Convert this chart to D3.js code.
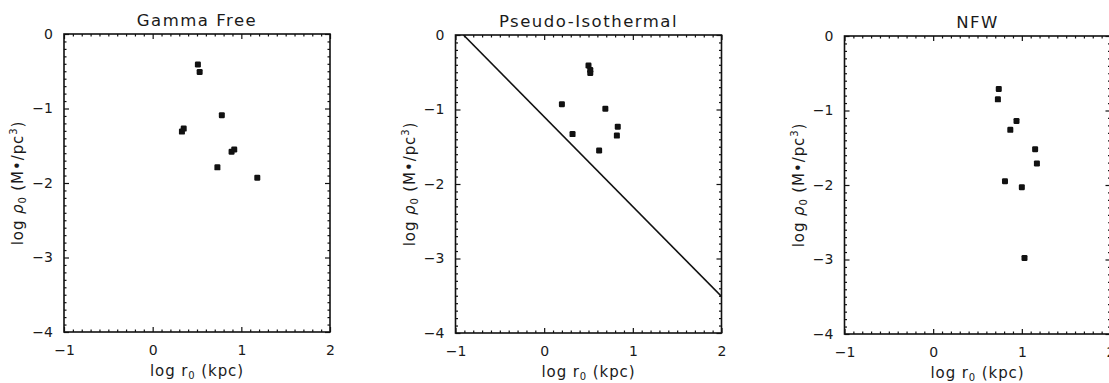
<!DOCTYPE html>
<html>
<head>
<meta charset="utf-8">
<script src="https://cdn.jsdelivr.net/npm/d3@7"></script>
<style>
  html, body { margin: 0; padding: 0; background: #fff; overflow: hidden; }
  svg { display: block; }
  text { font-family: "DejaVu Sans", sans-serif; fill: #1a1a1a; }
</style>
</head>
<body>
<svg id="chart" width="1109" height="383"></svg>
<script>
// ---- data ----
const titles = ["Gamma Free", "Pseudo-Isothermal", "NFW"];
const xTicks = [-1, 0, 1, 2];
const yTicks = [0, -1, -2, -3, -4];
const xDomain = [-1, 2];
const yDomain = [-4, 0];

const gammaX = [0.51, 0.53, 0.78, 0.33, 0.35, 0.89, 0.92, 0.73, 1.18];
const gammaY = [-0.41, -0.51, -1.09, -1.31, -1.27, -1.58, -1.55, -1.79, -1.93];

const isoX = [0.50, 0.52, 0.52, 0.20, 0.69, 0.83, 0.82, 0.32, 0.62];
const isoY = [-0.41, -0.47, -0.51, -0.93, -0.99, -1.23, -1.35, -1.33, -1.55];
const isoLineX = [-0.91, 2];
const isoLineY = [0, -3.51];

const nfwX = [0.74, 0.73, 0.94, 0.87, 1.15, 1.17, 0.81, 1.00, 1.03];
const nfwY = [-0.71, -0.85, -1.14, -1.26, -1.52, -1.71, -1.95, -2.03, -2.98];

const panelsData = [
  { title: titles[0], xs: gammaX, ys: gammaY, line: null },
  { title: titles[1], xs: isoX, ys: isoY, line: { xs: isoLineX, ys: isoLineY } },
  { title: titles[2], xs: nfwX, ys: nfwY, line: null }
];

// ---- layout ----
const lefts = [64, 455.5, 844.5];
const tops = [34, 35, 36];
const W = 266, H = 298;
const ink = "#111";

const svg = d3.select("#chart");

panelsData.forEach((p, i) => {
  const x = d3.scaleLinear().domain(xDomain).range([0, W]);
  const y = d3.scaleLinear().domain(yDomain).range([H, 0]);
  const g = svg.append("g").attr("transform", `translate(${lefts[i]},${tops[i]})`);

  const clipId = "clip" + i;
  g.append("clipPath").attr("id", clipId)
    .append("rect").attr("width", W).attr("height", H);

  const minorX = d3.range(-10, 21).map(d => d / 10).filter(d => !xTicks.includes(d));
  const minorY = d3.range(-40, 1).map(d => d / 10).filter(d => !yTicks.includes(d));

  const fmt = d3.format("d");
  const bottom = d3.axisBottom(x).tickValues(xTicks).tickSize(-5).tickPadding(13).tickFormat(fmt);
  const left = d3.axisLeft(y).tickValues(yTicks).tickSize(-5).tickPadding(11).tickFormat(fmt);
  const top = d3.axisTop(x).tickValues(xTicks).tickSize(-5).tickFormat("");
  const right = d3.axisRight(y).tickValues(yTicks).tickSize(-5).tickFormat("");

  const styleAxis = sel => {
    sel.select(".domain").remove();
    sel.selectAll("line").attr("stroke", ink).attr("stroke-width", 1.2);
    sel.selectAll("text").attr("font-size", 14).attr("fill", ink)
      .style("font-family", "'DejaVu Sans', sans-serif");
  };

  g.append("g").attr("transform", `translate(0,${H})`).call(bottom).call(styleAxis);
  g.append("g").call(left).call(styleAxis);
  g.append("g").call(top).call(styleAxis);
  g.append("g").attr("transform", `translate(${W},0)`).call(right).call(styleAxis);

  const mb = d3.axisBottom(x).tickValues(minorX).tickSize(-2.5).tickFormat("");
  const mt = d3.axisTop(x).tickValues(minorX).tickSize(-2.5).tickFormat("");
  const ml = d3.axisLeft(y).tickValues(minorY).tickSize(-2.5).tickFormat("");
  const mr = d3.axisRight(y).tickValues(minorY).tickSize(-2.5).tickFormat("");
  g.append("g").attr("transform", `translate(0,${H})`).call(mb).call(styleAxis);
  g.append("g").call(mt).call(styleAxis);
  g.append("g").call(ml).call(styleAxis);
  g.append("g").attr("transform", `translate(${W},0)`).call(mr).call(styleAxis);

  g.append("rect").attr("width", W).attr("height", H)
    .attr("fill", "none").attr("stroke", ink).attr("stroke-width", 1.6);

  if (p.line) {
    const lp = p.line.xs.map((v, k) => [v, p.line.ys[k]]);
    g.append("path")
      .attr("clip-path", `url(#${clipId})`)
      .attr("d", d3.line().x(d => x(d[0])).y(d => y(d[1]))(lp))
      .attr("fill", "none").attr("stroke", ink).attr("stroke-width", 1.6);
  }

  const pts = p.xs.map((v, k) => [v, p.ys[k]]);
  const s = 6;
  g.append("g").selectAll("rect").data(pts).join("rect")
    .attr("x", d => x(d[0]) - s / 2).attr("y", d => y(d[1]) - s / 2)
    .attr("width", s).attr("height", s)
    .attr("rx", 1.2).attr("fill", ink);

  g.append("text").attr("x", W / 2).attr("y", -8)
    .attr("text-anchor", "middle").attr("font-size", 16.5)
    .attr("letter-spacing", 1.5)
    .text(p.title);

  const xt = g.append("text").attr("x", W / 2).attr("y", H + 44)
    .attr("text-anchor", "middle").attr("font-size", 15).attr("letter-spacing", 0.9);
  xt.append("tspan").text("log r");
  xt.append("tspan").attr("font-size", 10).attr("dy", 3).text("0");
  xt.append("tspan").attr("dy", -3).text(" (kpc)");

  const yt = g.append("text")
    .attr("transform", `translate(-41,${H / 2}) rotate(-90)`)
    .attr("text-anchor", "middle").attr("font-size", 15).attr("letter-spacing", 0.9);
  yt.append("tspan").text("log ");
  yt.append("tspan").attr("font-style", "italic").text("ρ");
  yt.append("tspan").attr("font-size", 10).attr("dy", 3).text("0");
  yt.append("tspan").attr("dy", -3).text(" (M•/pc");
  yt.append("tspan").attr("font-size", 10).attr("dy", -6).text("3");
  yt.append("tspan").attr("dy", 6).text(")");
});
</script>
</body>
</html>
